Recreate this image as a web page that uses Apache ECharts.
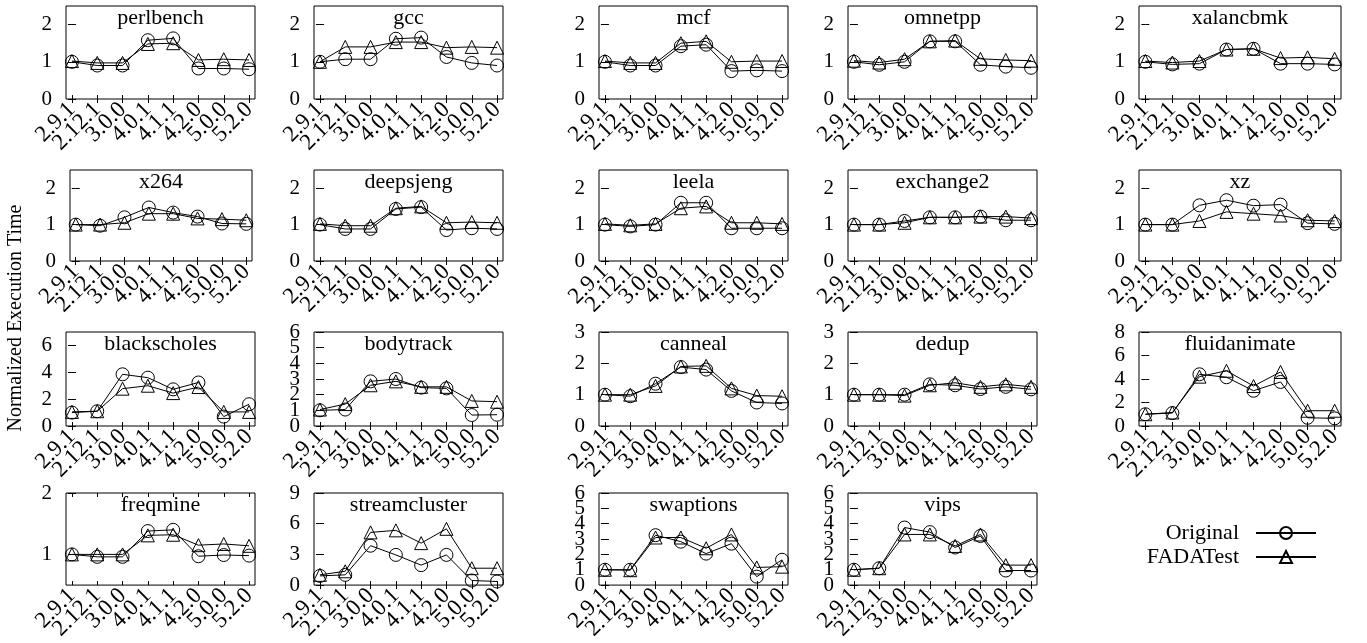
<!DOCTYPE html>
<html><head><meta charset="utf-8">
<script src="https://cdn.jsdelivr.net/npm/echarts@6/dist/echarts.min.js"></script>
<style>html,body{margin:0;padding:0;background:#fff}#c{width:1367px;height:643px}</style>
</head><body><div id="c"></div><script>
const versions = ['2.9.1','2.12.1','3.0.0','4.0.1','4.1.1','4.2.0','5.0.0','5.2.0'];
const benchmarks = ['perlbench','gcc','mcf','omnetpp','xalancbmk',
  'x264','deepsjeng','leela','exchange2','xz',
  'blackscholes','bodytrack','canneal','dedup','fluidanimate',
  'freqmine','streamcluster','swaptions','vips'];
const seriesNames = ['Original','FADATest'];
const originalValues = [
  [1.0, 0.9, 0.9, 1.58, 1.63, 0.82, 0.82, 0.8],
  [1.0, 1.07, 1.07, 1.62, 1.65, 1.13, 0.97, 0.9],
  [1.0, 0.9, 0.9, 1.42, 1.46, 0.75, 0.77, 0.75],
  [1.0, 0.92, 1.0, 1.55, 1.55, 0.92, 0.87, 0.84],
  [1.0, 0.93, 0.95, 1.33, 1.35, 0.95, 0.95, 0.93],
  [1.0, 0.97, 1.2, 1.47, 1.33, 1.22, 1.03, 1.02],
  [1.0, 0.88, 0.88, 1.43, 1.48, 0.85, 0.9, 0.88],
  [1.0, 0.95, 1.0, 1.6, 1.6, 0.9, 0.9, 0.9],
  [1.0, 1.0, 1.1, 1.2, 1.2, 1.22, 1.12, 1.12],
  [1.0, 1.0, 1.53, 1.67, 1.52, 1.55, 1.04, 1.02],
  [1.0, 1.1, 3.85, 3.6, 2.73, 3.24, 0.7, 1.62],
  [1.0, 1.05, 2.85, 3.0, 2.45, 2.4, 0.7, 0.72],
  [1.0, 0.95, 1.35, 1.88, 1.8, 1.12, 0.75, 0.72],
  [1.0, 1.0, 1.0, 1.33, 1.3, 1.18, 1.25, 1.17],
  [1.0, 1.1, 4.4, 4.15, 3.0, 3.75, 0.7, 0.65],
  [1.0, 0.96, 0.96, 1.38, 1.4, 0.97, 0.99, 0.98],
  [0.9, 1.0, 3.85, 2.95, 1.95, 2.95, 0.45, 0.35],
  [1.0, 1.0, 3.25, 2.83, 2.05, 2.7, 0.55, 1.65],
  [1.0, 1.1, 3.75, 3.45, 2.45, 3.2, 0.95, 0.95]
];
const fadaValues = [
  [1.02, 0.97, 0.97, 1.48, 1.5, 1.05, 1.07, 1.05],
  [1.0, 1.4, 1.4, 1.53, 1.53, 1.38, 1.4, 1.38],
  [1.02, 0.97, 0.97, 1.5, 1.55, 1.0, 1.02, 1.02],
  [1.03, 0.98, 1.07, 1.55, 1.57, 1.08, 1.05, 1.03],
  [1.02, 0.98, 1.02, 1.33, 1.35, 1.1, 1.12, 1.08],
  [1.0, 1.0, 1.05, 1.3, 1.3, 1.17, 1.15, 1.12],
  [1.02, 0.97, 0.97, 1.45, 1.5, 1.05, 1.07, 1.05],
  [1.02, 0.98, 1.02, 1.45, 1.5, 1.05, 1.05, 1.02],
  [1.0, 1.0, 1.05, 1.2, 1.2, 1.22, 1.22, 1.18],
  [1.0, 1.0, 1.1, 1.35, 1.3, 1.25, 1.12, 1.1],
  [1.05, 1.1, 2.78, 3.0, 2.45, 2.9, 1.05, 1.05],
  [1.05, 1.4, 2.6, 2.85, 2.5, 2.5, 1.6, 1.55],
  [1.0, 1.0, 1.28, 1.9, 1.92, 1.2, 0.97, 0.95],
  [1.0, 1.0, 0.97, 1.3, 1.38, 1.25, 1.33, 1.25],
  [1.0, 1.15, 4.2, 4.7, 3.4, 4.6, 1.3, 1.3],
  [1.0, 1.0, 1.0, 1.31, 1.32, 1.15, 1.17, 1.14],
  [1.0, 1.35, 5.15, 5.35, 4.1, 5.5, 1.65, 1.65],
  [1.0, 0.97, 3.1, 3.1, 2.4, 3.3, 1.15, 1.2],
  [1.0, 1.1, 3.3, 3.3, 2.55, 3.3, 1.3, 1.3]
];
const t012 = [0, 1, 2];
const yTicks = [t012, t012, t012, t012, t012, t012, t012, t012, t012, t012,
  [0, 2, 4, 6], [0, 1, 2, 3, 4, 5, 6], [0, 1, 2, 3], [0, 1, 2, 3], [0, 2, 4, 6, 8],
  [1, 2], [0, 3, 6, 9], [0, 1, 2, 3, 4, 5, 6], [0, 1, 2, 3, 4, 5, 6]];
const yMin = [0, 0, 0, 0, 0, 0, 0, 0, 0, 0, 0, 0, 0, 0, 0, 0.5, 0, 0, 0];
const yMax = [2.5, 2.5, 2.5, 2.5, 2.5, 2.5, 2.5, 2.5, 2.5, 2.5, 7, 6, 3, 3, 8, 2, 9, 6, 6];
const yAxisTitle = 'Normalized Execution Time';

// layout (pixels)
const colBoxes = [[66, 189], [314, 189], [599, 189], [848, 189], [1139, 202]];
const rowBoxes = [[6, 93], [170, 91], [332, 94], [493, 94]];
const FONT = 'Liberation Serif';
const xIdx = versions.map((_, k) => k);
const evens = a => a.filter((_, k) => k % 2 === 0);
const odds = a => a.filter((_, k) => k % 2 === 1);

const grids = [], xAxes = [], yAxes = [], series = [], titles = [];
const tickStyle = {color: '#000', width: 1};
const noTick = {show: false};
benchmarks.forEach((name, i) => {
  const r = Math.floor(i / 5), c = i % 5;
  let [left, width] = colBoxes[c];
  const [top, height] = rowBoxes[r];
  if (i === 5) { left = 70; width = 182; }
  grids.push({left, top, width, height, show: true, borderColor: '#000', borderWidth: 1,
    backgroundColor: 'rgba(0,0,0,0)', containLabel: false});
  const xb = (pos, tick, labels) => ({
    type: 'value', gridIndex: i, min: -0.235, max: 7.235, position: pos,
    axisLine: {show: false}, splitLine: {show: false},
    axisTick: tick ? {show: true, inside: true, length: 4, customValues: xIdx, lineStyle: tickStyle} : noTick,
    axisLabel: labels ? {show: true, customValues: labels, rotate: 45, margin: 7,
      showMinLabel: true, showMaxLabel: true, hideOverlap: false,
      formatter: v => versions[Math.round(v)], fontFamily: FONT, fontSize: 23, color: '#000'} : {show: false}
  });
  const base = xAxes.length;
  xAxes.push(xb('bottom', true, evens(xIdx)));
  xAxes.push(xb('top', true, null));
  xAxes.push(xb('bottom', false, odds(xIdx)));
  const yb = (pos, tick, labels) => ({
    type: 'value', gridIndex: i, min: yMin[i], max: yMax[i], position: pos,
    axisLine: {show: false}, splitLine: {show: false},
    axisTick: tick ? {show: true, inside: true, length: 4, customValues: yTicks[i], lineStyle: tickStyle} : noTick,
    axisLabel: labels && labels.length ? {show: true, customValues: labels, margin: 14,
      showMinLabel: true, showMaxLabel: true, hideOverlap: false,
      fontFamily: FONT, fontSize: 21, color: '#000'} : {show: false}
  });
  const ybase = yAxes.length;
  yAxes.push(yb('left', true, evens(yTicks[i])));
  yAxes.push(yb('right', true, null));
  yAxes.push(yb('left', false, odds(yTicks[i])));
  titles.push({text: name, left: left + width / 2, top: top + 1, textAlign: 'center', padding: 0,
    textStyle: {fontFamily: FONT, fontSize: 22, fontWeight: 'normal', color: '#000'}});
  const mk = (nm, vals, sym) => ({
    type: 'line', name: nm, xAxisIndex: base, yAxisIndex: ybase,
    data: vals.map((v, k) => [k, v]), symbol: sym, symbolSize: 13, showSymbol: true,
    itemStyle: {color: 'rgba(0,0,0,0)', borderColor: '#000', borderWidth: 1},
    lineStyle: {color: '#000', width: 1}, emphasis: {disabled: true}, silent: true,
    clip: false, animation: false
  });
  series.push(mk(seriesNames[0], originalValues[i], 'circle'));
  series.push(mk(seriesNames[1], fadaValues[i], 'triangle'));
});

const chart = echarts.init(document.getElementById('c'), null, {renderer: 'canvas'});
chart.setOption({
  animation: false,
  backgroundColor: '#fff',
  title: titles,
  grid: grids,
  xAxis: xAxes,
  yAxis: yAxes,
  series: series,
  legend: {
    data: seriesNames, orient: 'vertical', align: 'right', right: 45, top: 517,
    itemWidth: 60, itemHeight: 15, itemGap: 2, selectedMode: false, padding: 5,
    textStyle: {fontFamily: FONT, fontSize: 22, color: '#000', padding: [0, 12, 0, 0]}
  },
  graphic: [{
    type: 'text', x: 16, y: 318, rotation: Math.PI / 2,
    style: {text: yAxisTitle, font: '20px "Liberation Serif"', fill: '#000', align: 'center', verticalAlign: 'middle'}
  }]
});
</script></body></html>
